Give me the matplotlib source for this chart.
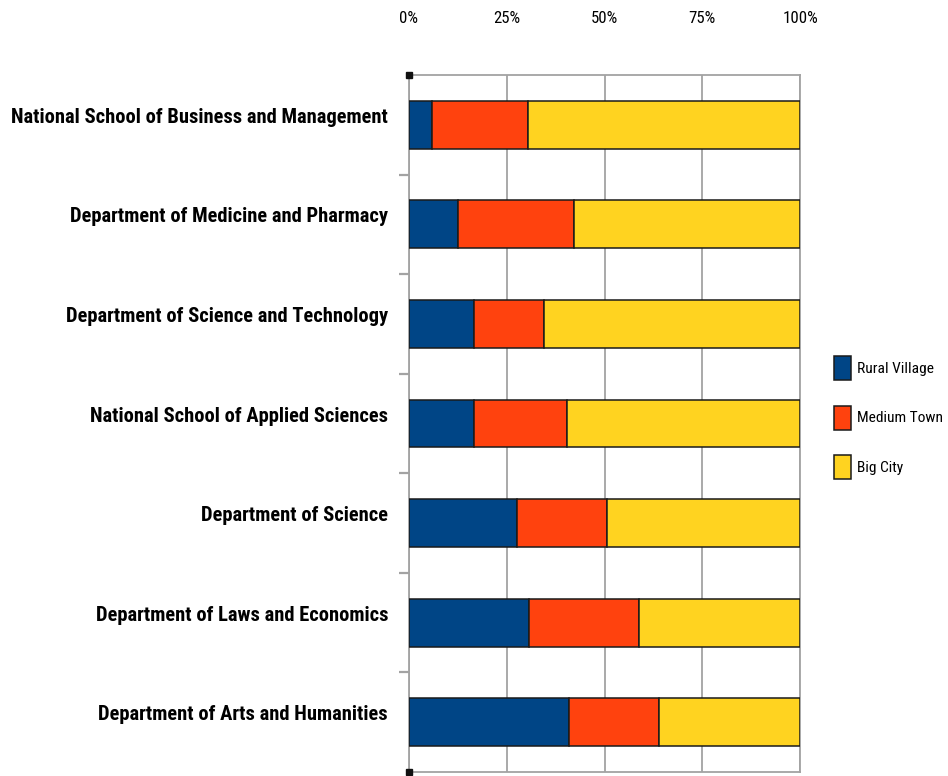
import matplotlib
matplotlib.use("Agg")
import matplotlib.pyplot as plt
from matplotlib.transforms import ScaledTranslation
import numpy as np

categories = [
    "National School of Business and Management",
    "Department of Medicine and Pharmacy",
    "Department of Science and Technology",
    "National School of Applied Sciences",
    "Department of Science",
    "Department of Laws and Economics",
    "Department of Arts and Humanities",
]
series_names = ["Rural Village", "Medium Town", "Big City"]
rural = [5.8, 12.6, 16.5, 16.5, 27.5, 30.8, 40.8]
medium = [24.6, 29.6, 17.9, 23.8, 23.1, 28.1, 23.1]
big = [69.6, 57.8, 65.6, 59.7, 49.4, 41.1, 36.1]
colors = ["#004586", "#ff420e", "#ffd320"]
xticks = [0, 25, 50, 75, 100]
xticklabels = ["0%", "25%", "50%", "75%", "100%"]

FAM = ["Liberation Sans Narrow", "DejaVu Sans Condensed", "Roboto Condensed",
       "Open Sans Condensed", "Liberation Sans", "DejaVu Sans"]

fig = plt.figure(figsize=(9.48, 7.76), dpi=100)
renderer = fig.canvas.get_renderer()


def fit_size(s, target_px, **kw):
    t = fig.text(0, 0, s, fontsize=10, family=FAM, **kw)
    w = t.get_window_extent(renderer).width
    t.remove()
    return 10.0 * target_px / w


ylab_fs = fit_size(categories[0], 376, fontweight="bold")
xt_fs = fit_size("100%", 35)
leg_fs = fit_size("Medium Town", 86)

ax = fig.add_axes([409/948, 1 - 772/776, 391/948, (772 - 75)/776])

y = np.arange(len(categories))
left = np.zeros(len(categories))
handles = []
for vals, name, c in zip([rural, medium, big], series_names, colors):
    h = ax.barh(y, vals, left=left, height=0.48, color=c, edgecolor="#1a1a1a",
                linewidth=1.1, label=name, zorder=3)
    handles.append(h)
    left += np.array(vals)

ax.set_xlim(0, 100)
ax.set_ylim(len(categories) - 0.5, -0.5)

gray = "#a3a3a3"
for s in ax.spines.values():
    s.set_color(gray)
    s.set_linewidth(1.3)

ax.set_xticks(xticks)
ax.set_xticklabels(xticklabels, family=FAM, fontsize=xt_fs)
ax.xaxis.tick_top()
ax.tick_params(axis="x", which="major", length=0, pad=35, colors="#000000")
ax.grid(axis="x", color=gray, linewidth=1.3, zorder=0)

ax.set_yticks(y)
ax.set_yticklabels([])
ax.tick_params(axis="y", which="major", length=0)
ax.set_yticks(np.arange(0.5, len(categories) - 0.5, 1.0), minor=True)
ax.tick_params(axis="y", which="minor", length=7, width=1.6, color=gray, direction="out")

ytr = ax.get_yaxis_transform() + ScaledTranslation(-0.21, 0.02, fig.dpi_scale_trans)
for yi, cat in zip(y, categories):
    ax.text(0, yi, cat, transform=ytr, ha="right", va="baseline", family=FAM,
            fontsize=ylab_fs, fontweight="bold", color="#000000")

# selection handles at the left corners of the plot frame
ax.plot([0, 0], [-0.5, len(categories) - 0.5], linestyle="none", marker="s",
        markersize=5, color="#111111", clip_on=False, zorder=5)

leg = fig.legend(handles=handles, labels=series_names, loc="upper left",
                 bbox_to_anchor=(834/948, 1 - 356/776), frameon=False,
                 prop={"family": FAM, "size": leg_fs},
                 handlelength=12.5 / leg_fs, handleheight=22.5 / leg_fs,
                 labelspacing=18.3 / leg_fs,
                 handletextpad=4.0 / leg_fs, borderaxespad=0, borderpad=0)

fig.savefig("out.png", dpi=100, facecolor="white")
